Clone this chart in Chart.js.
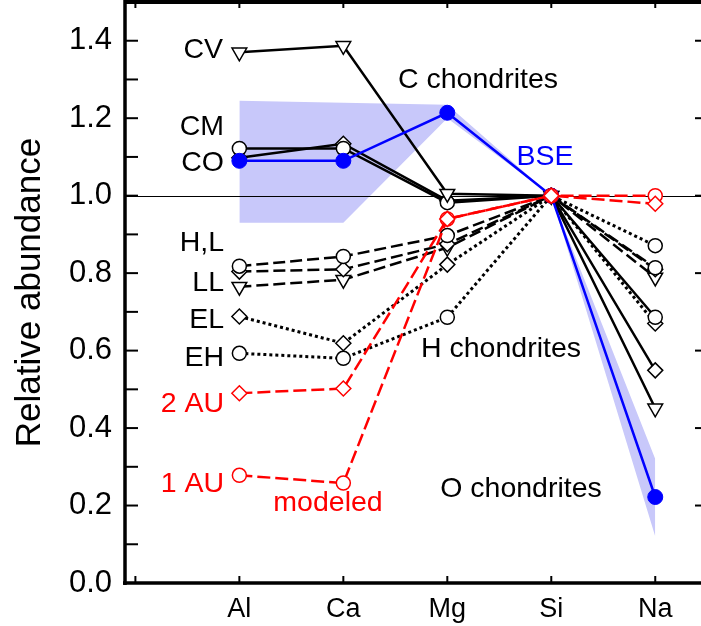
<!DOCTYPE html>
<html>
<head>
<meta charset="utf-8">
<script src="https://cdn.jsdelivr.net/npm/chart.js@4.4.1/dist/chart.umd.min.js"></script>
<style>
html,body{margin:0;padding:0;background:#fff;}
#wrap{width:701px;height:626px;}
</style>
</head>
<body>
<div id="wrap"><canvas id="c" width="701" height="626"></canvas></div>
<script>
// ---- data ----
const elements = ['Al', 'Ca', 'Mg', 'Si', 'Na'];
const xPos = [1, 2, 3, 4, 5];
const yTicks = [0.0, 0.2, 0.4, 0.6, 0.8, 1.0, 1.2, 1.4];

const CV  = [1.370, 1.387, 1.005, 1.0, 0.451];
const CM  = [1.122, 1.122, 0.982, 1.0, 0.686];
const CO  = [1.098, 1.134, 0.987, 1.0, 0.549];
const H   = [0.818, 0.843, 0.897, 1.0, 0.814];
const L   = [0.804, 0.810, 0.875, 1.0, 0.810];
const LL  = [0.765, 0.783, 0.866, 1.0, 0.789];
const EL  = [0.688, 0.619, 0.822, 1.0, 0.670];
const EH  = [0.593, 0.580, 0.686, 1.0, 0.871];
const AU1 = [0.278, 0.258, 0.940, 1.0, 1.000];
const AU2 = [0.490, 0.502, 0.940, 1.0, 0.979];
const BSE = [1.090, 1.090, 1.214, 1.0, 0.222];
const BSEhigh = [1.245, 1.240, 1.235, 1.0, 0.320];
const BSElow  = [0.930, 0.930, 1.200, 1.0, 0.120];

// ---- text annotations (pixel placement) ----
const notes = [
  {t:'CV', x:223, y:50, a:'right', c:'#000'},
  {t:'CM', x:224, y:127, a:'right', c:'#000'},
  {t:'CO', x:224, y:163, a:'right', c:'#000'},
  {t:'H,L', x:224, y:243, a:'right', c:'#000'},
  {t:'LL', x:224, y:283, a:'right', c:'#000'},
  {t:'EL', x:224, y:320, a:'right', c:'#000'},
  {t:'EH', x:224, y:358, a:'right', c:'#000'},
  {t:'2 AU', x:224, y:404, a:'right', c:'#ff0000'},
  {t:'1 AU', x:224, y:484, a:'right', c:'#ff0000'},
  {t:'modeled', x:328, y:503, a:'center', c:'#ff0000'},
  {t:'C chondrites', x:478, y:80, a:'center', c:'#000'},
  {t:'BSE', x:545, y:157, a:'center', c:'#0000ff'},
  {t:'H chondrites', x:501, y:349, a:'center', c:'#000'},
  {t:'O chondrites', x:521, y:489, a:'center', c:'#000'}
];

const FONT = '"Liberation Sans", Arial, Helvetica, sans-serif';
const pts = arr => arr.map((v, i) => ({x: xPos[i], y: v}));

function series(label, data, opts) {
  return Object.assign({
    label, data: pts(data), showLine: true, tension: 0,
    borderColor: '#000', borderWidth: 2.5, borderDash: [],
    pointBackgroundColor: '#fff', pointBorderColor: '#000', pointBorderWidth: 1.5,
    pointRadius: 7, pointStyle: 'circle', pointRotation: 0, fill: false
  }, opts);
}
const DASH = [12, 5], DOT = [3, 3], RDASH = [13, 5];
const tri = {pointStyle: 'triangle', pointRotation: 180, pointRadius: 8.5};
const dia = {pointStyle: 'rectRot', pointRadius: 7.5};

const datasets = [
  series('1 AU', AU1, {borderColor:'#ff0000', borderDash:RDASH, pointBorderColor:'#ff0000', order:1}),
  series('2 AU', AU2, Object.assign({borderColor:'#ff0000', borderDash:RDASH, pointBorderColor:'#ff0000', order:0}, dia)),
  series('BSE', BSE, {borderColor:'#0000ff', borderWidth:2.5, pointBackgroundColor:'#0000ff', pointBorderColor:'#0000ff', pointRadius:7.5, pointBorderWidth:1, order:2}),
  series('CV', CV, Object.assign({order:3}, tri)),
  series('CM', CM, {order:4}),
  series('CO', CO, Object.assign({order:5}, dia)),
  series('H', H, {borderDash:DASH, order:6}),
  series('L', L, Object.assign({borderDash:DASH, order:7}, dia)),
  series('LL', LL, Object.assign({borderDash:DASH, order:8}, tri)),
  series('EL', EL, Object.assign({borderDash:DOT, borderWidth:3, order:9}, dia)),
  series('EH', EH, {borderDash:DOT, borderWidth:3, order:10}),
  {label:'BSE high', data: pts(BSEhigh), showLine:true, tension:0, borderWidth:0, pointRadius:0,
   backgroundColor:'rgb(200,200,250)', borderColor:'rgba(0,0,0,0)', fill:'+1', order:20},
  {label:'BSE low', data: pts(BSElow), showLine:true, tension:0, borderWidth:0, pointRadius:0,
   backgroundColor:'rgb(200,200,250)', borderColor:'rgba(0,0,0,0)', fill:false, order:21}
];

const framePlugin = {
  id: 'frame',
  beforeDatasetsDraw(chart) {
    const {ctx, chartArea: a, scales: {y}} = chart;
    ctx.save();
    ctx.strokeStyle = '#000';
    ctx.lineWidth = 1;
    const py = Math.round(y.getPixelForValue(1.0)) + 0.5;
    ctx.beginPath(); ctx.moveTo(a.left, py); ctx.lineTo(a.right, py); ctx.stroke();
    ctx.restore();
  },
  afterDraw(chart) {
    const {ctx, chartArea: a, scales: {x, y}} = chart;
    ctx.save();
    ctx.strokeStyle = '#000';
    ctx.lineCap = 'butt';
    // ticks
    ctx.lineWidth = 2;
    for (let v = 0; v <= 14; v++) {
      const py = y.getPixelForValue(v / 10);
      ctx.beginPath(); ctx.moveTo(a.left, py); ctx.lineTo(a.left + 13, py); ctx.stroke();
    }
    for (const v of yTicks) {
      const py = y.getPixelForValue(v);
      ctx.beginPath(); ctx.moveTo(a.right, py); ctx.lineTo(a.right - 6, py); ctx.stroke();
    }
    for (let v = 0; v <= 5; v++) {
      const px = x.getPixelForValue(v);
      ctx.beginPath(); ctx.moveTo(px, a.bottom); ctx.lineTo(px, a.bottom - 7); ctx.stroke();
      ctx.beginPath(); ctx.moveTo(px, a.top); ctx.lineTo(px, a.top + 6); ctx.stroke();
    }
    // frame
    ctx.lineWidth = 4;
    ctx.beginPath(); ctx.moveTo(a.left, a.top); ctx.lineTo(a.right + 2, a.top); ctx.stroke();
    ctx.lineWidth = 3.5;
    ctx.beginPath(); ctx.moveTo(a.left, a.top - 2); ctx.lineTo(a.left, a.bottom + 2); ctx.stroke();
    ctx.lineWidth = 3.5;
    ctx.beginPath(); ctx.moveTo(a.left - 2, a.bottom); ctx.lineTo(a.right + 2, a.bottom); ctx.stroke();
    // annotations
    ctx.font = '28.5px ' + FONT;
    ctx.textBaseline = 'middle';
    for (const n of notes) {
      ctx.fillStyle = n.c; ctx.textAlign = n.a;
      ctx.fillText(n.t, n.x, n.y);
    }
    ctx.restore();
  }
};

new Chart(document.getElementById('c'), {
  type: 'scatter',
  data: {datasets},
  options: {
    responsive: false, animation: false, devicePixelRatio: 1,
    layout: {autoPadding: false, padding: {top: 2, right: 0, left: 0, bottom: 0}},
    plugins: {legend: {display: false}, tooltip: {enabled: false}, filler: {drawTime: 'beforeDatasetsDraw'}},
    scales: {
      x: {
        type: 'linear', position: 'bottom', min: -0.1, max: 5.44,
        afterBuildTicks: s => { s.ticks = [0, 1, 2, 3, 4, 5].map(v => ({value: v})); },
        afterFit: s => { s.height = 43; s.paddingLeft = 0; s.paddingRight = 0; },
        grid: {display: false, drawTicks: false}, border: {display: false},
        ticks: {autoSkip: false, maxRotation: 0, padding: 10, color: '#000',
          font: {family: FONT, size: 27},
          callback: v => (v >= 1 && v <= 5) ? elements[v - 1] : ''}
      },
      y: {
        type: 'linear', position: 'left', min: 0, max: 1.5,
        afterBuildTicks: s => { s.ticks = yTicks.map(v => ({value: v})); },
        afterFit: s => { s.width = 125; s.paddingTop = 0; s.paddingBottom = 0; },
        grid: {display: false, drawTicks: false}, border: {display: false},
        ticks: {autoSkip: false, padding: 13, color: '#000',
          font: {family: FONT, size: 31}, callback: v => v.toFixed(1)},
        title: {display: true, text: 'Relative abundance', color: '#000',
          font: {family: FONT, size: 35}, padding: {top: 9, bottom: 0}}
      }
    }
  },
  plugins: [framePlugin]
});
</script>
</body>
</html>
